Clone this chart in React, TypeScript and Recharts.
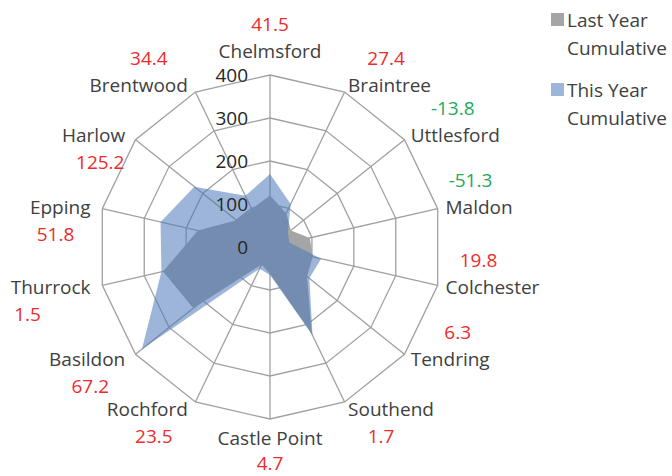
import React from 'react';
import { RadarChart, Radar, PolarGrid, PolarAngleAxis, PolarRadiusAxis, Legend } from 'recharts';

// ---- data ----
const districts = [
  'Chelmsford', 'Braintree', 'Uttlesford', 'Maldon', 'Colchester', 'Tendring', 'Southend',
  'Castle Point', 'Rochford', 'Basildon', 'Thurrock', 'Epping', 'Harlow', 'Brentwood',
];
const lastYearCumulative = [120, 87, 62, 95, 102, 110, 224, 62, 45, 228, 255, 172, 100, 98];
const thisYearCumulative = [170, 111, 53, 46, 122, 117, 228, 65, 56, 381, 259, 261, 225, 132];
const changePct = ['41.5', '27.4', '-13.8', '-51.3', '19.8', '6.3', '1.7', '4.7', '23.5', '67.2', '1.5', '51.8', '125.2', '34.4'];
const radiusTicks = [0, 100, 200, 300, 400];
const seriesNames = ['Last Year Cumulative', 'This Year Cumulative'];

const chartData = districts.map((name, i) => ({
  name,
  lastYear: lastYearCumulative[i],
  thisYear: thisYearCumulative[i],
  pct: changePct[i],
}));

// ---- layout / style ----
const W = 672;
const H = 476;
const CX = 270;
const CY = 247;
const OUTER_R = 172;
const LABEL_R = 180;
const FONT = '"Open Sans", "Liberation Sans", sans-serif';
const FS = 19;
const TEXT_COLOR = '#404040';
const RED = '#ee2b2b';
const GREEN = '#22a95c';
const LY_COLOR = '#a5a5a5';
const TY_COLOR = '#4d78b8';
const TY_OPACITY = 0.55;
const GRID_COLOR = '#a0a0a0';
// horizontal nudge of the change labels relative to the label anchor point
const PCT_DX = [0, 38, 42, 25, 33, 47, 33, 0, -38, -39, -67, -39, -29, -43];

const AngleTick = (props: any) => {
  const i: number = props.index;
  const n = districts.length;
  const theta = (i * 2 * Math.PI) / n;
  const s = Math.sin(theta);
  const c = Math.cos(theta);
  const px = CX + LABEL_R * s;
  const py = CY - LABEL_R * c;
  let anchor: 'start' | 'middle' | 'end' = 'middle';
  let nx = px;
  let ny = py;
  if (Math.abs(s) < 0.1) {
    anchor = 'middle';
    ny = c > 0 ? py - 16 : py + 11;
  } else if (s > 0) {
    anchor = 'start';
    nx = px;
  } else {
    anchor = 'end';
    nx = px - 4;
  }
  const above = i <= 5 || i === 13;
  const pctY = above ? ny - 27 : ny + (i === 7 ? 25 : 27);
  const pctVal = parseFloat(changePct[i]);
  return (
    <g>
      <text x={nx} y={ny} textAnchor={anchor} dominantBaseline="central" fontSize={FS} fontFamily={FONT} fill={TEXT_COLOR}>
        {districts[i]}
      </text>
      <text x={px + PCT_DX[i]} y={pctY} textAnchor="middle" dominantBaseline="central" fontSize={FS} fontFamily={FONT} fill={pctVal < 0 ? GREEN : RED}>
        {changePct[i]}
      </text>
    </g>
  );
};

const RadiusTick = (props: any) => {
  const { x, y, payload } = props;
  return (
    <text x={x - 22} y={y} textAnchor="end" dominantBaseline="central" fontSize={FS} fontFamily={FONT} fill="#262626">
      {payload.value}
    </text>
  );
};

const renderLegend = () => (
  <svg width={142} height={140} style={{ display: 'block' }}>
    {seriesNames.map((name, i) => {
      const cut = name.lastIndexOf(' ');
      const line1 = name.slice(0, cut);
      const line2 = name.slice(cut + 1);
      const top = 13 + i * 70;
      return (
        <g key={name}>
          <rect x={21} y={top} width={13} height={13} fill={i === 0 ? LY_COLOR : TY_COLOR} fillOpacity={i === 0 ? 1 : TY_OPACITY} />
          <text x={37} y={top + 14} fontSize={FS} fontFamily={FONT} fill={TEXT_COLOR}>{line1}</text>
          <text x={37} y={top + 42} fontSize={FS} fontFamily={FONT} fill={TEXT_COLOR}>{line2}</text>
        </g>
      );
    })}
  </svg>
);

export default function App() {
  return (
    <div style={{ position: 'absolute', left: 0, top: 0, width: W, height: H, background: '#fff' }}>
      <RadarChart width={W} height={H} data={chartData} cx={CX} cy={CY} outerRadius={OUTER_R} margin={{ top: 0, right: 0, bottom: 0, left: 0 }}>
        <PolarGrid gridType="polygon" stroke={GRID_COLOR} strokeWidth={1.3} />
        <PolarAngleAxis dataKey="name" tick={AngleTick} tickLine={false} axisLine={false} />
        <Radar name={seriesNames[0]} dataKey="lastYear" fill={LY_COLOR} fillOpacity={1} stroke="none" isAnimationActive={false} />
        <Radar name={seriesNames[1]} dataKey="thisYear" fill={TY_COLOR} fillOpacity={TY_OPACITY} stroke="none" isAnimationActive={false} />
        <PolarRadiusAxis angle={90} domain={[0, 400]} ticks={radiusTicks} tickCount={5} type="number" tick={RadiusTick} axisLine={false} tickLine={false} />
        <Legend content={renderLegend} wrapperStyle={{ position: 'absolute', left: 530, top: 0, width: 142, height: 140 }} />
      </RadarChart>
    </div>
  );
}
